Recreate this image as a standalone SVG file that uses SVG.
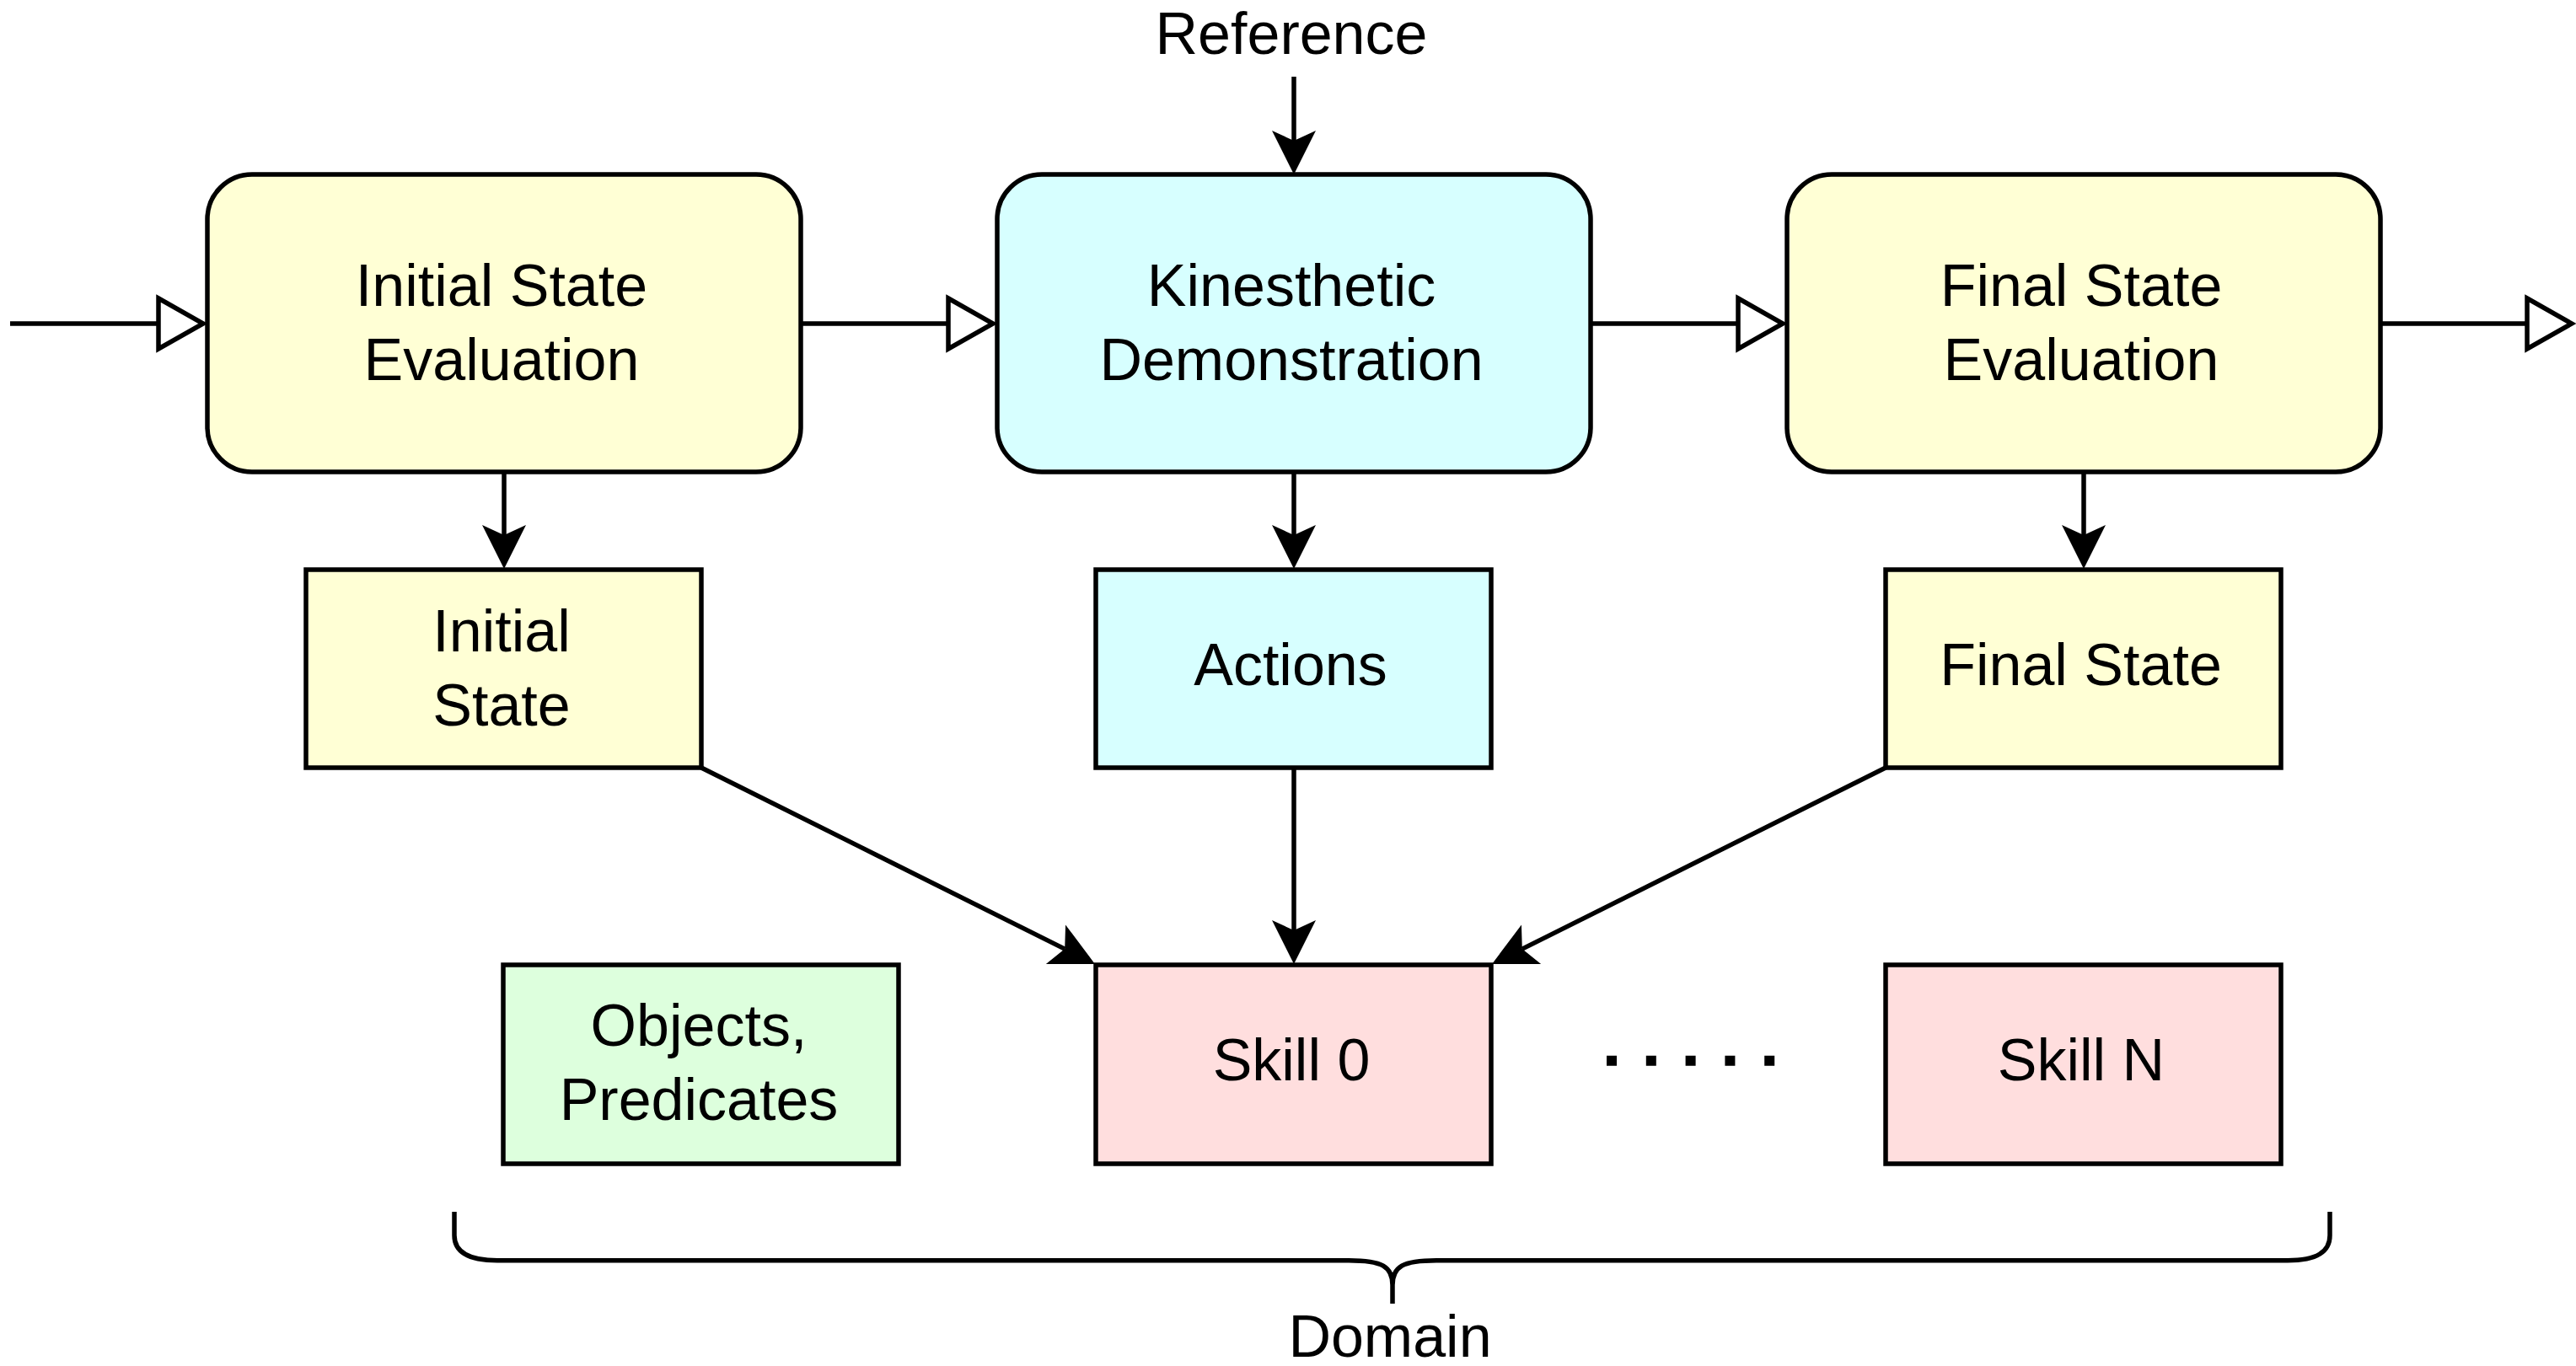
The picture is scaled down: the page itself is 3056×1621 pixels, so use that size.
<svg xmlns="http://www.w3.org/2000/svg" width="3056" height="1621" viewBox="0 0 3056 1621">
<style>
  .box { stroke: #000; stroke-width: 5.5; }
  .yellow { fill: #FFFFD5; }
  .cyan { fill: #D7FFFF; }
  .pink { fill: #FFDEDE; }
  .green { fill: #DDFFDD; }
  .lbl { font-family: "Liberation Sans", Arial, sans-serif; font-size: 70px; fill: #000; text-anchor: middle; }
  .conn { stroke: #000; stroke-width: 5.5; fill: none; }
  .open { marker-end: url(#openTri); }
  .filled { marker-end: url(#classic); }
</style>
<defs>
  <marker id="classic" markerUnits="userSpaceOnUse" markerWidth="60" markerHeight="60" refX="0" refY="0" orient="auto" overflow="visible">
    <path d="M40,0 L-12,-26 L0,0 L-12,26 Z" fill="#000" stroke="none"/>
  </marker>
  <marker id="openTri" markerUnits="userSpaceOnUse" markerWidth="60" markerHeight="60" refX="0" refY="0" orient="auto" overflow="visible">
    <path d="M0,-30 L53,0 L0,30 Z" fill="#fff" stroke="#000" stroke-width="5.5" stroke-linejoin="miter"/>
  </marker>
</defs>

<g id="connectors">
  <line class="conn open" x1="12" y1="384" x2="188" y2="384"/>
  <line class="conn open" x1="950" y1="384" x2="1125" y2="384"/>
  <line class="conn open" x1="1887" y1="384" x2="2062" y2="384"/>
  <line class="conn open" x1="2824" y1="384" x2="2998" y2="384"/>
  <line class="conn filled" x1="1535" y1="91" x2="1535" y2="167"/>
  <line class="conn filled" x1="598" y1="560" x2="598" y2="635"/>
  <line class="conn filled" x1="1535" y1="560" x2="1535" y2="635"/>
  <line class="conn filled" x1="2472" y1="560" x2="2472" y2="635"/>
  <line class="conn filled" x1="1535" y1="911" x2="1535" y2="1104"/>
  <line class="conn filled" x1="832" y1="911" x2="1263.2" y2="1126.1"/>
  <line class="conn filled" x1="2237" y1="911" x2="1805.8" y2="1126.1"/>
  <line x1="1906" y1="1258.7" x2="2106" y2="1258.7" stroke="#000" stroke-width="12" stroke-dasharray="12 34.8"/>
  <path class="conn" d="M539,1438 V1466 C539,1486 556,1495.7 590,1495.7 H1600 C1640,1495.7 1652,1503 1652,1525 V1547 M1652,1525 C1652,1503 1664,1495.7 1704,1495.7 H2714 C2748,1495.7 2764,1486 2764,1466 V1438" stroke-width="6"/>
</g>

<g id="reference-label">
  <text class="lbl" x="1532" y="64">Reference</text>
</g>

<g id="initial-state-evaluation">
  <rect class="box yellow" x="246" y="207" width="704" height="353" rx="53" ry="53"/>
  <text class="lbl" x="595" y="363">Initial State</text>
  <text class="lbl" x="595" y="451">Evaluation</text>
</g>

<g id="kinesthetic-demonstration">
  <rect class="box cyan" x="1183" y="207" width="704" height="353" rx="53" ry="53"/>
  <text class="lbl" x="1532" y="363">Kinesthetic</text>
  <text class="lbl" x="1532" y="451">Demonstration</text>
</g>

<g id="final-state-evaluation">
  <rect class="box yellow" x="2120" y="207" width="704" height="353" rx="53" ry="53"/>
  <text class="lbl" x="2469" y="363">Final State</text>
  <text class="lbl" x="2469" y="451">Evaluation</text>
</g>

<g id="initial-state">
  <rect class="box yellow" x="363" y="676" width="469" height="235"/>
  <text class="lbl" x="595" y="773">Initial</text>
  <text class="lbl" x="595" y="861">State</text>
</g>

<g id="actions">
  <rect class="box cyan" x="1300" y="676" width="469" height="235"/>
  <text class="lbl" x="1531" y="813">Actions</text>
</g>

<g id="final-state">
  <rect class="box yellow" x="2237" y="676" width="469" height="235"/>
  <text class="lbl" x="2468.5" y="813">Final State</text>
</g>

<g id="objects-predicates">
  <rect class="box green" x="597" y="1145" width="469" height="236"/>
  <text class="lbl" x="829" y="1241">Objects,</text>
  <text class="lbl" x="829" y="1329">Predicates</text>
</g>

<g id="skill-0">
  <rect class="box pink" x="1300" y="1145" width="469" height="236"/>
  <text class="lbl" x="1532" y="1282">Skill 0</text>
</g>

<g id="skill-n">
  <rect class="box pink" x="2237" y="1145" width="469" height="236"/>
  <text class="lbl" x="2469" y="1282">Skill N</text>
</g>

<g id="domain-label">
  <text class="lbl" x="1649" y="1610">Domain</text>
</g>
</svg>
